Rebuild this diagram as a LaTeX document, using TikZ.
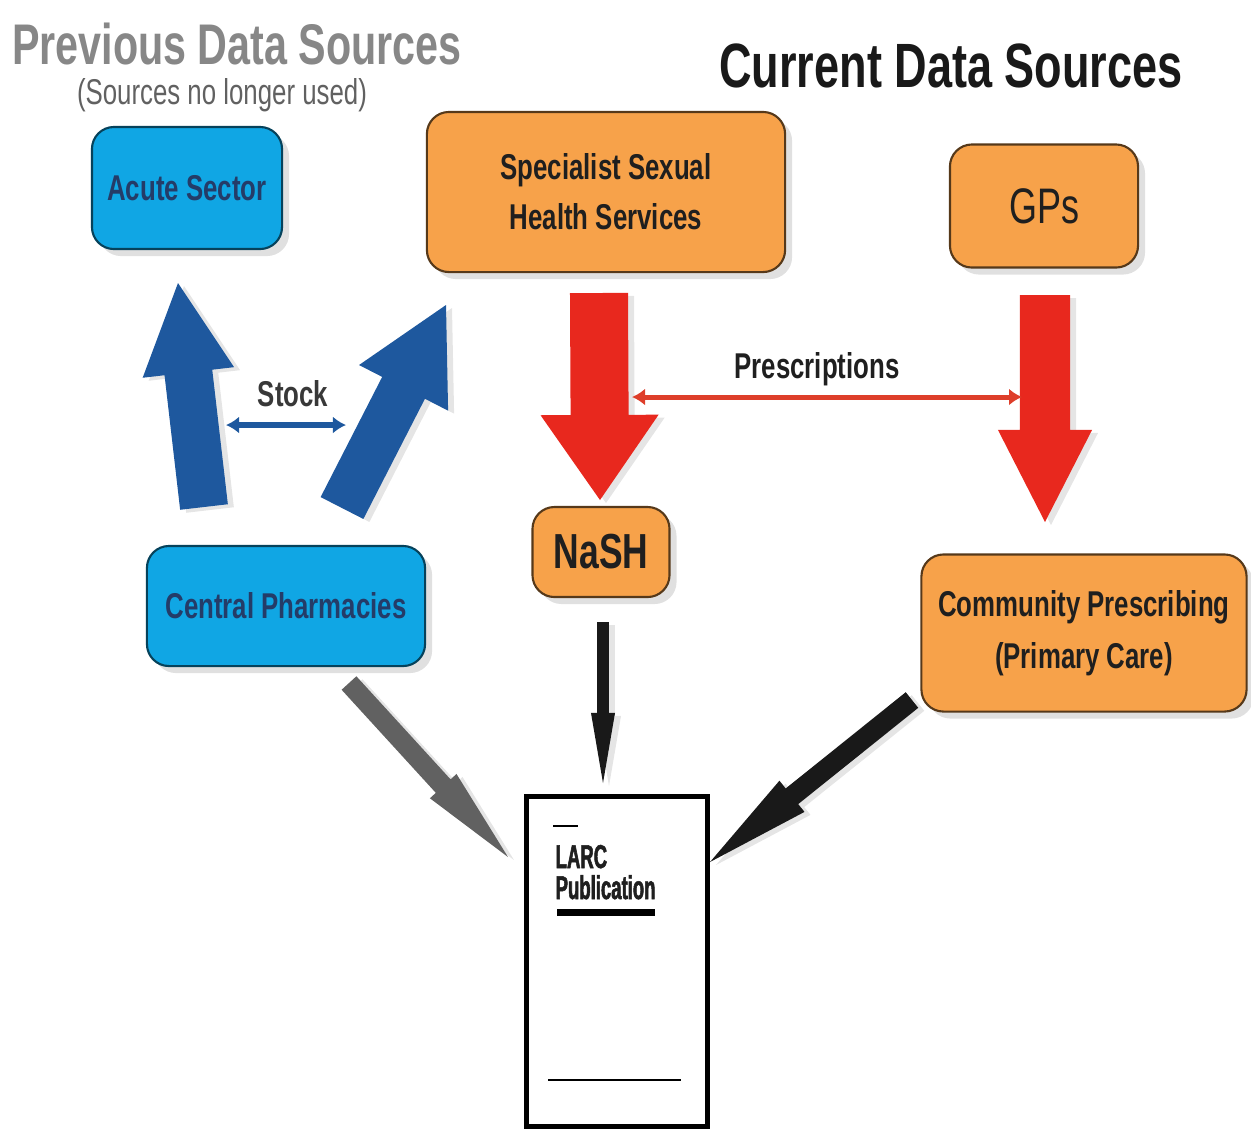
\documentclass[tikz,border=0pt]{standalone}
\usepackage{fontspec}
\setmainfont{Liberation Sans}
\newfontfamily\condfont{Liberation Sans}[FakeStretch=0.72]
\newfontfamily\narrowfont{Liberation Sans}[FakeStretch=0.56, FakeBold=1.6]
\usepackage{tikz}
\usetikzlibrary{shapes,arrows,arrows.meta,positioning,calc,shadows}
\definecolor{boxblue}{RGB}{16,166,228}
\definecolor{boxorange}{RGB}{247,162,74}
\definecolor{arrowblue}{RGB}{30,88,158}
\definecolor{arrowred}{RGB}{232,40,30}
\definecolor{linkred}{RGB}{222,62,42}
\definecolor{navytext}{RGB}{36,60,104}

% fat block arrow: [style]{tail}{tip}{half shaft}{half head}{head length}
\newcommand{\fatarrow}[6][]{%
  \coordinate (fa-base) at ($(#3)!#6!(#2)$);
  \fill[#1] ($(#2)!#4!90:(#3)$) -- ($(fa-base)!#4!90:(#3)$) -- ($(fa-base)!#5!90:(#3)$)
    -- (#3) -- ($(fa-base)!#5!-90:(#3)$) -- ($(fa-base)!#4!-90:(#3)$)
    -- ($(#2)!#4!-90:(#3)$) -- cycle;
}

\begin{document}
\begin{tikzpicture}[
    x=0.01cm, y=-0.01cm,
    source/.style={rectangle, rounded corners=0.22cm, line width=0.6pt, align=center, inner sep=0pt,
        font=\condfont\bfseries\fontsize{10.2}{14.2}\selectfont,
        drop shadow={shadow xshift=0.07cm, shadow yshift=-0.07cm, fill=black, opacity=0.12}},
    old-source/.style={source, fill=boxblue, draw=boxblue!40!black, text=navytext},
    new-source/.style={source, fill=boxorange, draw=boxorange!35!black, text=black!88},
    heading/.style={anchor=base, font=\condfont\bfseries\fontsize{16.3}{18}\selectfont},
    flow-label/.style={anchor=base, font=\condfont\bfseries\fontsize{10.2}{12}\selectfont},
    arrow-shadow/.style={drop shadow={shadow xshift=0.06cm, shadow yshift=-0.03cm, fill=black, opacity=0.1}},
    link-arrow/.style={<->, >={Latex[length=0.13cm,width=0.17cm]}, line width=0.055cm}
]
\useasboundingbox (0,0) rectangle (1251,1129);

% Headings
\node[heading, text=black!47] (prev) at (237,64) {Previous Data Sources};
\node[anchor=base, text=black!62, font=\condfont\fontsize{10.2}{12}\selectfont] (prev-note) at (222,104) {(Sources no longer used)};
\node[heading, text=black!90, font=\condfont\bfseries\fontsize{17.8}{19}\selectfont] (curr) at (951,87) {Current Data Sources};

% Previous sources
\node[old-source, minimum width=1.9cm, minimum height=1.22cm] (acute) at (187,188) {Acute Sector};
\node[old-source, minimum width=2.78cm, minimum height=1.2cm] (central) at (286,606) {Central Pharmacies};

% Current sources
\node[new-source, minimum width=3.58cm, minimum height=1.6cm] (sshs) at (606,192) {Specialist Sexual\\Health Services};
\node[new-source, minimum width=1.88cm, minimum height=1.23cm, font=\condfont\fontsize{14.2}{16}\selectfont] (gps) at (1044,206) {GPs};
\node[new-source, minimum width=1.37cm, minimum height=0.9cm, font=\condfont\bfseries\fontsize{14}{16}\selectfont] (nash) at (601,552) {NaSH};
\node[new-source, minimum width=3.25cm, minimum height=1.57cm, font=\condfont\bfseries\fontsize{10.2}{14.8}\selectfont] (community) at (1084,633) {Community Prescribing\\(Primary Care)};

% Publication
\node[draw, line width=0.05cm, fill=white, minimum width=1.8cm, minimum height=3.29cm] (larc) at (617,961.5) {};
\node[anchor=base west, inner sep=0pt, text=black!88, font=\narrowfont\bfseries\fontsize{9.4}{10}\selectfont] (larc-top) at (555,868) {LARC};
\node[anchor=base west, inner sep=0pt, text=black!88, font=\narrowfont\bfseries\fontsize{9.4}{10}\selectfont] (larc-sub) at (555,899) {Publication};
\draw[line width=0.02cm] (553,826) -- (578,826);
\draw[line width=0.07cm] (557,912) -- (655,912);
\draw[line width=0.02cm] (548,1080) -- (681,1080);

% Arrow end points
\coordinate (cp-acute-tail) at (204,507);
\coordinate (cp-acute-tip) at (178,283);
\coordinate (cp-sshs-tail) at (342,508);
\coordinate (cp-sshs-tip) at (446,305);
\coordinate (sshs-tail) at (599,293);
\coordinate (sshs-tip) at (600,500);
\coordinate (gps-tail) at (1045,295);
\coordinate (gps-tip) at (1045,522);
\coordinate (nash-tail) at (603,622);
\coordinate (nash-tip) at (603,783);
\coordinate (cp-larc-tail) at (349,683);
\coordinate (cp-larc-tip) at (508,857);
\coordinate (cps-larc-tail) at (912,700);
\coordinate (cps-larc-tip) at (710,862);

% Stock flows
\fatarrow[fill=arrowblue, arrow-shadow]{cp-acute-tail}{cp-acute-tip}{0.24cm}{0.46cm}{0.9cm}
\fatarrow[fill=arrowblue, arrow-shadow]{cp-sshs-tail}{cp-sshs-tip}{0.24cm}{0.5cm}{0.93cm}

% Prescription flows
\fatarrow[fill=arrowred, arrow-shadow]{sshs-tail}{sshs-tip}{0.29cm}{0.59cm}{0.85cm}
\fatarrow[fill=arrowred, arrow-shadow]{gps-tail}{gps-tip}{0.25cm}{0.47cm}{0.92cm}

% Flows into the publication
\fatarrow[fill=black!90, arrow-shadow]{nash-tail}{nash-tip}{0.058cm}{0.12cm}{0.7cm}
\fatarrow[fill=black!62, arrow-shadow]{cp-larc-tail}{cp-larc-tip}{0.1cm}{0.18cm}{0.96cm}
\fatarrow[fill=black!90, arrow-shadow]{cps-larc-tail}{cps-larc-tip}{0.1cm}{0.2cm}{1.05cm}

% Links between the flows
\coordinate (stock-l) at (226,425);
\coordinate (stock-r) at (346,425);
\draw[link-arrow, arrowblue] (stock-l) -- (stock-r);
\node[flow-label, text=black!78] (stock) at (293,406) {Stock};

\coordinate (presc-l) at (632,397);
\coordinate (presc-r) at (1022,397);
\draw[link-arrow, linkred, line width=0.05cm] (presc-l) -- (presc-r);
\node[flow-label, text=black!88] (presc) at (817,378) {Prescriptions};

\end{tikzpicture}
\end{document}
